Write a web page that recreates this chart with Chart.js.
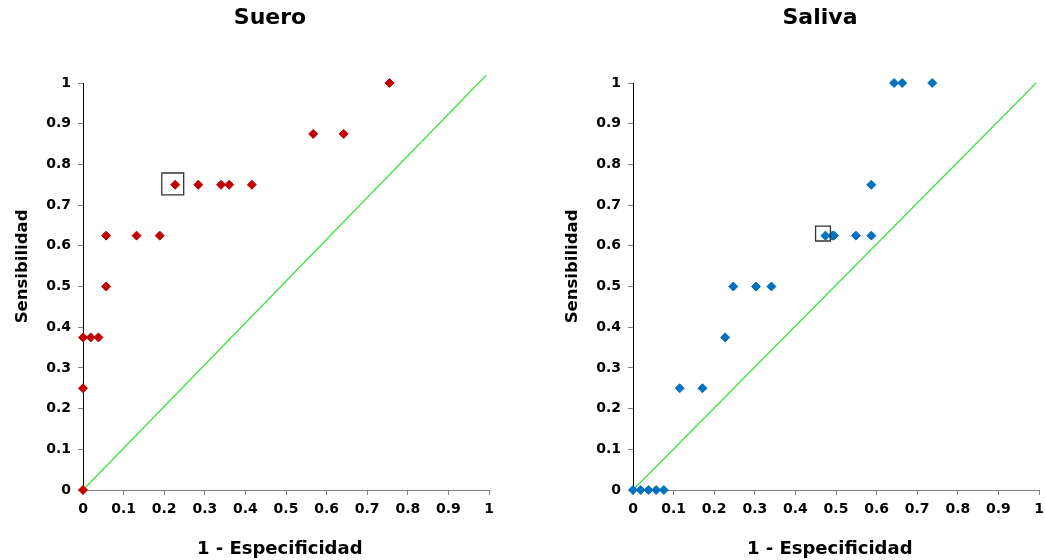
<!DOCTYPE html>
<html>
<head>
<meta charset="utf-8">
<script src="https://cdn.jsdelivr.net/npm/chart.js@4"></script>
<style>
  html, body { margin: 0; padding: 0; background: #fff; overflow: hidden; }
  #wrap { position: relative; width: 1045px; height: 560px; overflow: hidden; }
  .panel { position: absolute; top: 0; width: 540px; height: 560px; }
</style>
</head>
<body>
<div id="wrap">
  <div class="panel" style="left:0"><canvas id="suero" width="540" height="560"></canvas></div>
  <div class="panel" style="left:550px"><canvas id="saliva" width="540" height="560"></canvas></div>
</div>
<script>
// axis ticks shared by both panels
const tickVals = [0, 0.1, 0.2, 0.3, 0.4, 0.5, 0.6, 0.7, 0.8, 0.9, 1];
const tickLabels = ['0', '0.1', '0.2', '0.3', '0.4', '0.5', '0.6', '0.7', '0.8', '0.9', '1'];

// Suero ROC points (1 - especificidad, sensibilidad)
const sueroX = [0, 0, 0, 0.019, 0.038, 0.057, 0.057, 0.132, 0.189, 0.227, 0.284, 0.340, 0.360, 0.416, 0.567, 0.642, 0.755];
const sueroY = [0, 0.25, 0.375, 0.375, 0.375, 0.5, 0.625, 0.625, 0.625, 0.75, 0.75, 0.75, 0.75, 0.75, 0.875, 0.875, 1];
const sueroBox = [0.221, 0.752];
const sueroDiag = [[0, 0], [0.993, 1.019]];

// Saliva ROC points
const salivaX = [0, 0.019, 0.038, 0.057, 0.076, 0.115, 0.171, 0.227, 0.247, 0.303, 0.341, 0.474, 0.491, 0.495, 0.549, 0.587, 0.587, 0.643, 0.663, 0.737];
const salivaY = [0, 0, 0, 0, 0, 0.25, 0.25, 0.375, 0.5, 0.5, 0.5, 0.625, 0.625, 0.625, 0.625, 0.625, 0.75, 1, 1, 1];
const salivaBox = [0.468, 0.630];
const salivaDiag = [[0, 0], [0.993, 1]];

const FONT = '"DejaVu Sans", Verdana, sans-serif';
const NB = '\u00a0';

function axis(titleText, horizontal){
  return {
    type: 'linear', min: 0, max: 1,
    afterBuildTicks: s => { s.ticks = tickVals.map(v => ({ value: v })); },
    afterFit: s => { if(horizontal) s.height = 70; else s.width = 83; },
    ticks: {
      callback: (v, i) => tickLabels[i],
      autoSkip: false, maxRotation: 0,
      color: '#000', padding: horizontal ? 6 : 7,
      font: { family: FONT, size: 14, weight: 'bold' }
    },
    grid: { drawOnChartArea: false, drawTicks: true, tickLength: 5, tickColor: '#808080' },
    border: { display: true, color: horizontal ? '#808080' : '#000', width: 1 },
    title: {
      display: true, text: titleText, color: '#000',
      padding: horizontal ? { top: 6, bottom: 0 } : { top: 13, bottom: 0 },
      font: { family: FONT, size: horizontal ? 18 : 16.5, weight: 'bold' }
    }
  };
}

function makeRoc(id, title, xs, ys, color, box, boxR, diag){
  const pts = xs.map((x, i) => ({ x: x, y: ys[i] }));
  new Chart(document.getElementById(id), {
    type: 'scatter',
    data: {
      datasets: [
        { data: diag.map(p => ({ x: p[0], y: p[1] })), showLine: true, borderColor: '#3be23b',
          borderWidth: 1.2, pointRadius: 0, clip: false, order: 3 },
        { data: pts, pointStyle: 'rectRot', pointRadius: 4.5, backgroundColor: color,
          borderColor: color, borderWidth: 1, clip: false, order: 2 },
        { data: [{ x: box[0], y: box[1] }], pointStyle: 'rect', pointRadius: boxR,
          backgroundColor: 'rgba(0,0,0,0)', borderColor: '#333', borderWidth: 1.3, clip: false, order: 1 }
      ]
    },
    options: {
      responsive: false, animation: false,
      events: [],
      layout: { padding: 0 },
      plugins: {
        legend: { display: false },
        tooltip: { enabled: false },
        title: {
          display: true, text: title, color: '#000',
          padding: { top: 5, bottom: 51.6 },
          font: { family: FONT, size: 22, weight: 'bold' }
        }
      },
      scales: {
        x: axis('1 - Especificidad' + NB + NB, true),
        y: axis(NB.repeat(7) + 'Sensibilidad', false),
        // empty right-hand spacer so the title centres on the full panel
        yr: {
          position: 'right', display: true,
          afterFit: s => { s.width = 51; },
          ticks: { display: false }, grid: { display: false }, border: { display: false }
        }
      }
    }
  });
}

makeRoc('suero', 'Suero', sueroX, sueroY, '#c00000', sueroBox, 15.5, sueroDiag);
makeRoc('saliva', 'Saliva', salivaX, salivaY, '#0070c0', salivaBox, 10.5, salivaDiag);
</script>
</body>
</html>
